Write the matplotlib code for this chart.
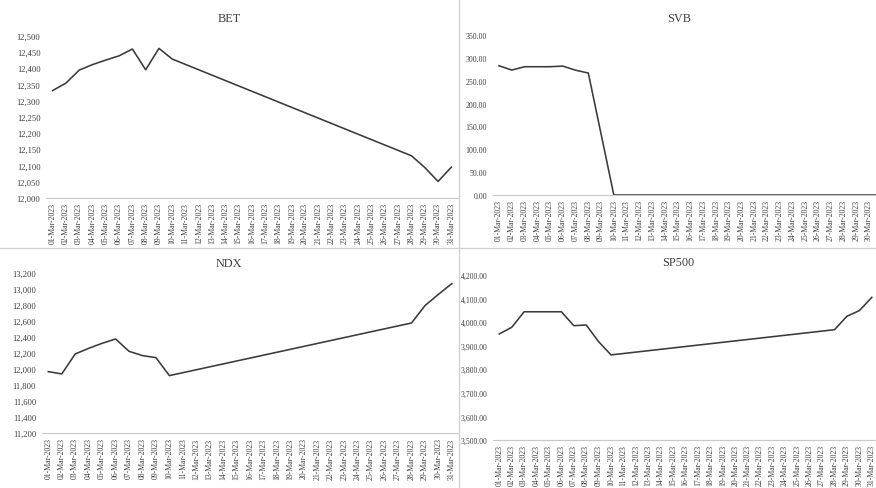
import numpy as np
import matplotlib
matplotlib.use("Agg")
import matplotlib.pyplot as plt
from matplotlib.lines import Line2D
from matplotlib.ticker import FuncFormatter

plt.rcParams['font.family'] = ['Liberation Serif', 'DejaVu Serif']

# categories (every day of March 2023)
dates = ["%02d-Mar-2023" % d for d in range(1, 32)]

# closing values, None = no point (line just connects)
bet = [12331, 12354, 12394, 12411, 12425, 12438, 12459, 12395, 12461, 12428,
       None, None, None, None, None, None, None, None, None, None,
       None, None, None, None, None, None, None, 12130, 12094, 12051, 12095]
svb = [282.8, 273.3, 280.6, 280.6, 280.6, 282.0, 273.0, 266.8, None, 0.0,
       0.0, 0.0, 0.0, 0.0, 0.0, 0.0, 0.0, 0.0, 0.0, 0.0,
       0.0, 0.0, 0.0, 0.0, 0.0, 0.0, 0.0, 0.0, 0.0, 0.0, 0.0]
ndx = [11971, 11942, 12192, 12262, 12325, 12379, 12225, 12171, 12146, 11921,
       None, None, None, None, None, None, None, None, None, None,
       None, None, None, None, None, None, None, 12579, 12796, 12937, 13071]
sp500 = [3950, 3978, 4044, 4044, 4044, 4044, 3985, 3988, 3917, 3861,
         None, None, None, None, None, None, None, None, None, None,
         None, None, None, None, None, None, None, 3968, 4025, 4049, 4105]

W, H = 876, 489
fig = plt.figure(figsize=(W / 100, H / 100), dpi=100)

grey_txt = "#404040"
line_col = "#3a3a3a"
sep_col = "#cfcfcf"


def make_panel(name, vals, left, right, ybot, ytop, lims, step, fmt, title_xy,
               ysize=6.2, nlab=31):
    # pixel box -> figure fraction
    ax = fig.add_axes([left / W, 1 - ybot / H, (right - left) / W, (ybot - ytop) / H])
    x = np.arange(len(vals))
    y = np.array([np.nan if v is None else v for v in vals], dtype=float)
    ok = ~np.isnan(y)
    ax.plot(x[ok], y[ok], color=line_col, lw=1.15, clip_on=False)
    ax.set_xlim(-0.5, len(vals) - 0.5)
    ax.set_ylim(*lims)
    ax.set_yticks(np.arange(lims[0], lims[1] + step / 2, step))
    ax.yaxis.set_major_formatter(FuncFormatter(fmt))
    ax.set_xticks(x)
    # the screenshot is cut at the right, so the last label of SVB is not shown
    labs = dates[:nlab] + [""] * (len(vals) - nlab)
    ax.set_xticklabels(labs, rotation=90, fontsize=5.6, color=grey_txt)
    ax.tick_params(axis='y', length=0, pad=4, labelsize=ysize, labelcolor=grey_txt)
    ax.tick_params(axis='x', length=0, pad=3)
    for s in ['top', 'right', 'left']:
        ax.spines[s].set_visible(False)
    ax.spines['bottom'].set_color("#c8c8c8")
    ax.spines['bottom'].set_linewidth(0.8)
    ax.patch.set_alpha(0)
    fig.text(title_xy[0] / W, 1 - title_xy[1] / H, name, ha='center', va='center',
             fontsize=8.8, color=grey_txt)
    return ax


comma0 = lambda v, p: "{:,.0f}".format(v)
comma2 = lambda v, p: "{:,.2f}".format(v)

make_panel("BET", bet, 46, 458, 199, 36.7, (12000, 12500), 50, comma0, (229, 19))
make_panel("SVB", svb, 492.6, 888.2, 196, 36, (0, 350), 50, comma2, (679, 19),
           ysize=5.7, nlab=30)
make_panel("NDX", ndx, 41.6, 458.6, 434.3, 274.3, (11200, 13200), 200, comma0, (229, 264))
make_panel("SP500", sp500, 493.1, 878, 441, 276, (3500, 4200), 100, comma2, (678, 263.5),
           ysize=5.6)

# panel separators
fig.add_artist(Line2D([459 / W, 459 / W], [0, 1], color=sep_col, lw=0.9))
fig.add_artist(Line2D([0, 1], [1 - 249 / H, 1 - 249 / H], color=sep_col, lw=0.9))

fig.savefig("out.png", dpi=100)
